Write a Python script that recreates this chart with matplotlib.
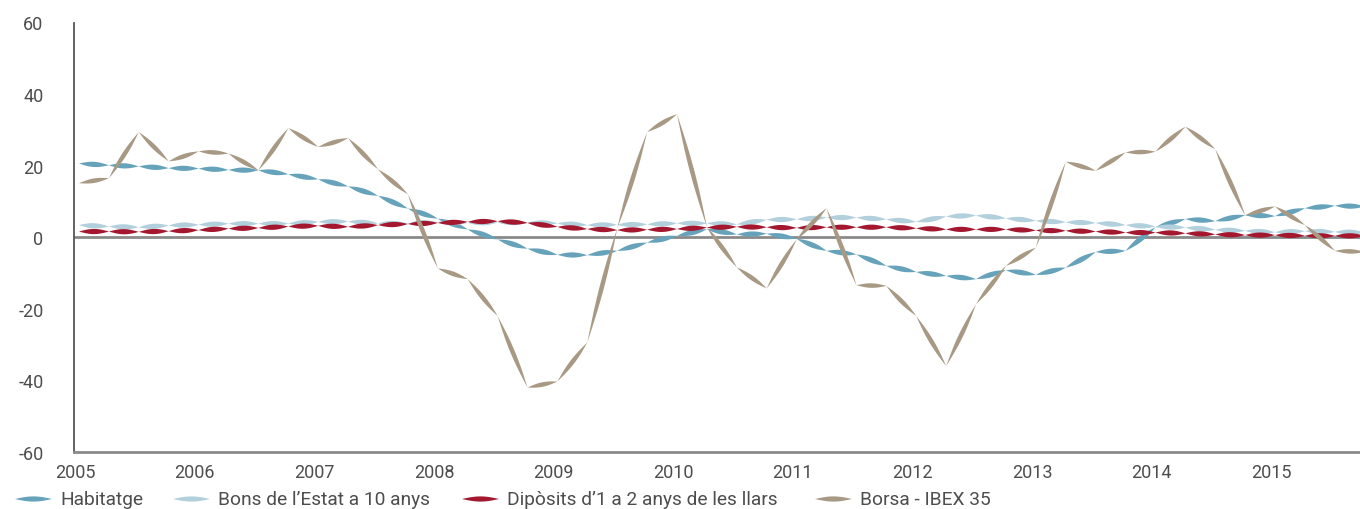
import numpy as np
import matplotlib
matplotlib.use('Agg')
import matplotlib.pyplot as plt
from matplotlib.patches import Polygon

# quarterly series, 2005 Q1 onwards (% change)
habitatge = [20.6, 20.1, 19.8, 19.3, 19.2, 18.8, 18.7, 17.6, 16.2, 14.2, 11.6, 8.0,
             5.2, 2.2, -0.6, -3.2, -4.9, -5.0, -3.8, -1.5, 0.4, 2.2, 0.8, 1.0,
             -0.4, -3.8, -4.8, -8.0, -9.7, -10.8, -11.7, -9.2, -10.5, -8.5, -4.1, -3.8,
             2.8, 5.1, 4.5, 6.2, 5.9, 8.1, 8.8, 8.6]
bons = [3.4, 3.0, 2.8, 3.3, 3.5, 3.8, 3.8, 3.8, 4.3, 4.4, 3.9, 3.8,
        4.2, 4.0, 4.1, 4.1, 3.9, 3.4, 3.5, 3.6, 3.9, 3.9, 3.6, 4.9,
        5.0, 5.5, 5.5, 5.0, 4.3, 5.8, 6.1, 5.3, 4.6, 4.2, 4.0, 3.4,
        3.0, 2.7, 2.1, 1.8, 1.4, 1.7, 1.5, 1.3]
diposits = [1.6, 1.6, 1.5, 1.7, 2.0, 2.4, 2.6, 3.0, 3.2, 2.9, 3.4, 3.7,
            4.0, 4.3, 4.5, 4.0, 2.9, 2.3, 2.0, 2.1, 2.3, 2.7, 2.9, 2.8,
            2.6, 2.8, 2.8, 2.8, 2.5, 2.2, 2.2, 2.2, 1.9, 1.8, 1.6, 1.3,
            1.3, 1.1, 0.8, 0.6, 0.6, 0.4, 0.4, 0.4]
borsa = [15.1, 16.5, 29.4, 21.2, 24.0, 23.4, 18.7, 30.5, 25.2, 27.7, 19.0, 12.0,
         -8.7, -11.7, -22.0, -42.0, -40.3, -29.4, 2.5, 29.4, 34.4, 2.8, -8.4, -14.3,
         -0.6, 8.1, -13.4, -13.6, -22.0, -36.0, -18.7, -8.0, -2.9, 21.1, 18.6, 23.7,
         23.9, 30.9, 24.6, 6.1, 8.6, 3.4, -3.8, -4.1]
years = ['2005', '2006', '2007', '2008', '2009', '2010', '2011', '2012', '2013', '2014', '2015']
labels = ['Habitatge', 'Bons de l\u2019Estat a 10 anys',
          'Dip\u00f2sits d\u20191 a 2 anys de les llars', 'Borsa - IBEX 35']
colors = ['#66a3bb', '#b2cfdc', '#a3172f', '#a89984']

plt.rcParams['font.family'] = ['Roboto', 'DejaVu Sans']
txt = '#4d4d4d'

fig = plt.figure(figsize=(13.6, 5.1), dpi=100)
ax = fig.add_axes([74 / 1360, 57 / 510, 1 - 74 / 1360, (453 - 23.5) / 510])

ax.set_xlim(-0.167, 42.84)
ax.set_ylim(-60, 60)


def lens_line(ax, ys, color, width, z):
    xs = np.arange(len(ys))
    pts = ax.transData.transform(np.column_stack([xs, ys]))
    inv = ax.transData.inverted()
    t = np.linspace(0, 1, 30)
    for (x0, y0), (x1, y1) in zip(pts[:-1], pts[1:]):
        dx, dy = x1 - x0, y1 - y0
        L = np.hypot(dx, dy)
        nx, ny = -dy / L, dx / L
        h = width / 2 * np.sin(np.pi * t)
        cx, cy = x0 + dx * t, y0 + dy * t
        up = np.column_stack([cx + nx * h, cy + ny * h])
        lo = np.column_stack([cx - nx * h, cy - ny * h])[::-1]
        ax.add_patch(Polygon(inv.transform(np.vstack([up, lo])), closed=True,
                             fc=color, ec='none', zorder=z))


ax.axhline(0, color='#8a8a8a', lw=2, zorder=1)
for i, (s, c) in enumerate(zip([habitatge, bons, diposits, borsa], colors)):
    lens_line(ax, s, c, 5.2 if i < 3 else 4.5, 3 + i)

for side in ['top', 'right']:
    ax.spines[side].set_visible(False)
ax.spines['left'].set_color('#555555')
ax.spines['left'].set_linewidth(1.3)
ax.spines['bottom'].set_color('#8a8a8a')
ax.spines['bottom'].set_linewidth(2)

ax.set_yticks([-60, -40, -20, 0, 20, 40, 60])
ax.set_yticklabels(['-60', '-40', '-20', '0', '20', '40', '60'])
ax.set_xticks([-0.13 + 4 * k for k in range(len(years))])
ax.set_xticklabels(years)
ax.tick_params(axis='y', length=0, pad=22, labelsize=13, labelcolor=txt)
ax.tick_params(axis='x', length=0, pad=8, labelsize=13, labelcolor=txt)

# legend with lens-shaped keys
key_x = [15, 173, 462, 815]
ly = 10 / 510
for kx, c, lab in zip(key_x, colors, labels):
    t = np.linspace(0, 1, 30)
    xs = (kx + 37 * t) / 1360
    h = 2.6 * np.sin(np.pi * t) / 510
    poly = np.vstack([np.column_stack([xs, ly + h]),
                      np.column_stack([xs, ly - h])[::-1]])
    fig.add_artist(Polygon(poly, closed=True, fc=c, ec='none',
                           transform=fig.transFigure))
    fig.text((kx + 45) / 1360, ly, lab, fontsize=13.8, color=txt,
             ha='left', va='center')

fig.savefig('out.png', dpi=100)
